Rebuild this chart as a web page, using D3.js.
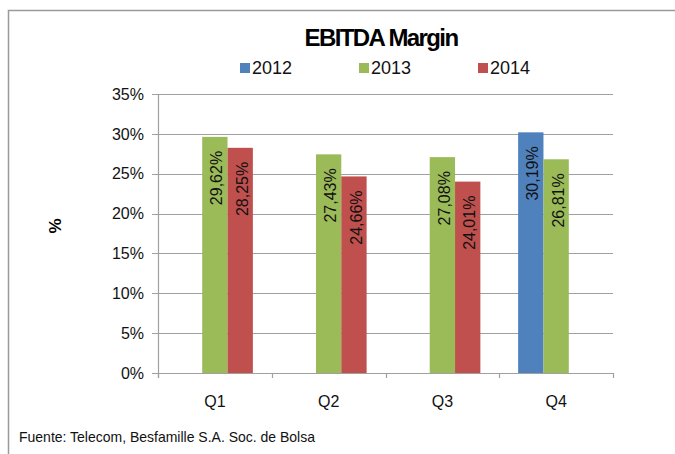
<!DOCTYPE html>
<html>
<head>
<meta charset="utf-8">
<script src="https://cdn.jsdelivr.net/npm/d3@7"></script>
<style>
  body { margin: 0; background: #fff; }
  svg { display: block; font-family: "Liberation Sans", Arial, sans-serif; }
</style>
</head>
<body>
<svg id="viz" width="675" height="454"></svg>
<script>
// EBITDA margin by quarter (%)
var quarters = ["Q1", "Q2", "Q3", "Q4"];
var years = ["2012", "2013", "2014"];
var margin2012 = [null, null, null, 30.19];
var margin2013 = [29.62, 27.43, 27.08, 26.81];
var margin2014 = [28.25, 24.66, 24.01, null];
var yTicks = [0, 5, 10, 15, 20, 25, 30, 35];

var colors = { "2012": "#4f81bd", "2013": "#9bbb59", "2014": "#c0504d" };
var series = { "2012": margin2012, "2013": margin2013, "2014": margin2014 };

var svg = d3.select("#viz");

// chart frame (clipped at right & bottom like the screenshot)
svg.append("rect")
  .attr("x", 8.5).attr("y", 10.5)
  .attr("width", 700).attr("height", 480)
  .attr("fill", "none")
  .attr("stroke", "#9a9a9a")
  .attr("stroke-width", 1.5);

var x0 = d3.scaleBand().domain(quarters).range([158, 613])
  .paddingInner(0.332).paddingOuter(0.166);
var x1 = d3.scaleBand().domain(years).range([0, x0.bandwidth()]);
var y = d3.scaleLinear().domain([0, 35]).range([373, 94]);

// gridlines
svg.append("g")
  .selectAll("line")
  .data(yTicks)
  .join("line")
  .attr("x1", 152).attr("x2", 613)
  .attr("y1", d => Math.round(y(d)) + 0.5)
  .attr("y2", d => Math.round(y(d)) + 0.5)
  .attr("stroke", "#a0a0a0")
  .attr("stroke-width", 1.2);

// y axis line
svg.append("line")
  .attr("x1", 158.5).attr("x2", 158.5)
  .attr("y1", y(35)).attr("y2", y(0) + 5)
  .attr("stroke", "#a0a0a0").attr("stroke-width", 1.2);

// x axis ticks at category boundaries
var bounds = quarters.map(q => x0(q) - x0.step() * 0.166).concat([613]);
svg.append("g")
  .selectAll("line")
  .data(bounds)
  .join("line")
  .attr("x1", d => Math.round(d) + 0.5).attr("x2", d => Math.round(d) + 0.5)
  .attr("y1", y(0)).attr("y2", y(0) + 5)
  .attr("stroke", "#a0a0a0").attr("stroke-width", 1.2);

// y tick labels
svg.append("g")
  .selectAll("text")
  .data(yTicks)
  .join("text")
  .attr("x", 144)
  .attr("y", d => y(d))
  .attr("dy", "0.36em")
  .attr("text-anchor", "end")
  .attr("font-size", 16)
  .attr("fill", "#111")
  .text(d => d + "%");

// x labels
svg.append("g")
  .selectAll("text")
  .data(quarters)
  .join("text")
  .attr("x", d => x0(d) + x0.bandwidth() / 2)
  .attr("y", 407)
  .attr("text-anchor", "middle")
  .attr("font-size", 16)
  .attr("fill", "#111")
  .text(d => d);

// bars
var barData = [];
quarters.forEach(function (q, i) {
  years.forEach(function (yr) {
    var v = series[yr][i];
    if (v != null) barData.push({ q: q, year: yr, v: v });
  });
});

var fmt = d3.format(".2f");

var bars = svg.append("g")
  .selectAll("g")
  .data(barData)
  .join("g");

bars.append("rect")
  .attr("x", d => x0(d.q) + x1(d.year))
  .attr("y", d => y(d.v))
  .attr("width", x1.bandwidth())
  .attr("height", d => y(0) - y(d.v))
  .attr("fill", d => colors[d.year]);

bars.append("text")
  .attr("transform", d => `translate(${x0(d.q) + x1(d.year) + x1.bandwidth() / 2 + 2},${y(d.v) + 14}) rotate(-90)`)
  .attr("dy", "0.35em")
  .attr("text-anchor", "end")
  .attr("font-size", 16)
  .attr("fill", "#111")
  .text(d => fmt(d.v).replace(".", ",") + "%");

// title
svg.append("text")
  .attr("x", 381).attr("y", 45.5)
  .attr("text-anchor", "middle")
  .attr("font-size", 24)
  .attr("font-weight", "bold")
  .attr("letter-spacing", -1.6)
  .attr("fill", "#000")
  .text("EBITDA Margin");

// legend
var legend = svg.append("g")
  .selectAll("g")
  .data(years)
  .join("g")
  .attr("transform", (d, i) => `translate(${240 + i * 119},0)`);

legend.append("rect")
  .attr("x", 0).attr("y", 63)
  .attr("width", 10).attr("height", 10)
  .attr("fill", d => colors[d]);

legend.append("text")
  .attr("x", 12).attr("y", 74)
  .attr("font-size", 18)
  .attr("fill", "#111")
  .text(d => d);

// y axis title
svg.append("text")
  .attr("transform", "translate(55,226) rotate(-90)")
  .attr("dy", "0.35em")
  .attr("text-anchor", "middle")
  .attr("font-size", 17)
  .attr("font-weight", "bold")
  .attr("fill", "#000")
  .text("%");

// source note
svg.append("text")
  .attr("x", 19).attr("y", 442)
  .attr("font-family", "'Liberation Sans Narrow', 'Arial Narrow', sans-serif")
  .attr("font-size", 14.5)
  .attr("textLength", 296)
  .attr("lengthAdjust", "spacingAndGlyphs")
  .attr("fill", "#111")
  .text("Fuente: Telecom, Besfamille S.A. Soc. de Bolsa");
</script>
</body>
</html>
